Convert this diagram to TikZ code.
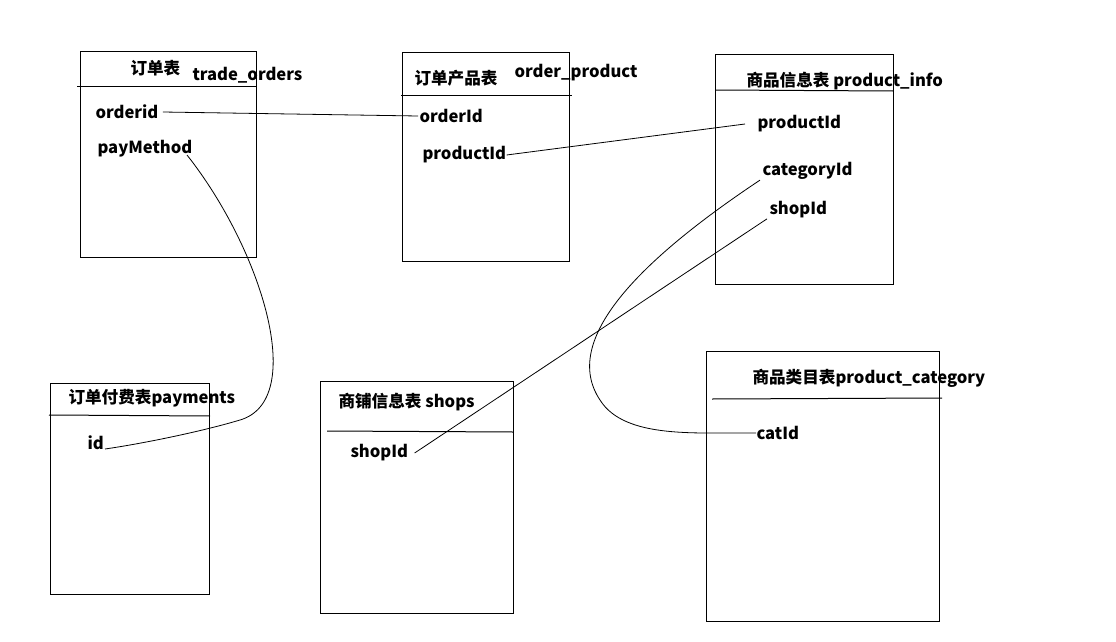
\documentclass[tikz,border=0pt]{standalone}
\usepackage{fontspec}
\setmainfont{Noto Sans CJK SC}
\begin{document}
\begin{tikzpicture}[x=1pt,y=-1pt,line width=1pt,
  tbl/.style={draw,rectangle,inner sep=0pt,anchor=north west},
  lbl/.style={anchor=west,inner sep=0pt,font=\fontsize{16.6}{18}\selectfont\bfseries},
  link/.style={draw,line width=0.8pt}]
\useasboundingbox[fill=white] (0,0) rectangle (1116,642);
% tables
\node[tbl,minimum width=176pt,minimum height=206pt] (t1) at (80,51) {};
\draw (77,86) -- (256,86);
\node[tbl,minimum width=167pt,minimum height=209pt] (t2) at (402,52) {};
\draw (401,95) -- (572,95);
\node[tbl,minimum width=178pt,minimum height=230pt] (t3) at (715,54) {};
\draw (715,90) -- (893,91);
\node[tbl,minimum width=159pt,minimum height=211pt] (t4) at (50,383) {};
\draw (49,415) -- (210,416);
\node[tbl,minimum width=193pt,minimum height=232pt] (t5) at (320,381) {};
\draw (327,431) -- (513,432);
\node[tbl,minimum width=233pt,minimum height=270pt] (t6) at (706,351) {};
\draw (712,399) -- (942,398);
% titles
\node[lbl] (h1) at (130,68) {订单表};
\node[lbl] (h1b) at (192,75) {trade\_orders};
\node[lbl] (h2) at (414,78) {订单产品表};
\node[lbl] (h2b) at (514,73) {order\_product};
\node[lbl] (h3) at (746,81) {商品信息表 product\_info};
\node[lbl] (h4) at (68,398) {订单付费表payments};
\node[lbl] (h5) at (338,402) {商铺信息表 shops};
\node[lbl] (h6) at (752,378) {商品类目表product\_category};
% fields
\node[lbl] (f1a) at (95,112) {orderid};
\node[lbl] (f1b) at (97,149) {payMethod};
\node[lbl] (f2a) at (419,116) {orderId};
\node[lbl] (f2b) at (422,155) {productId};
\node[lbl] (f3a) at (757,124) {productId};
\node[lbl] (f3b) at (762,171) {categoryId};
\node[lbl] (f3c) at (769,210) {shopId};
\node[lbl] (f4a) at (87,443) {id};
\node[lbl] (f5a) at (350,453) {shopId};
\node[lbl] (f6a) at (756,433) {catId};
% connectors
\coordinate (c1) at (187,155);
\coordinate (c2) at (105,449);
\path[link] ([xshift=4pt]f1a.east) -- ([xshift=-1pt]f2a.west);
\path[link] (f2b.east) -- ([xshift=-12pt]f3a.west);
\path[link] (c1) .. controls (262,250) and (308,400) .. (240,420) .. controls (200,432) and (140,444) .. (c2);
\path[link] ([xshift=-2pt]f3b.south west) .. controls (640,260) and (560,340) .. (600,400) .. controls (625,440) and (700,432) .. (f6a.west);
\path[link] ([xshift=-2pt]f3c.south west) -- ([xshift=6pt]f5a.east);
\end{tikzpicture}
\end{document}
